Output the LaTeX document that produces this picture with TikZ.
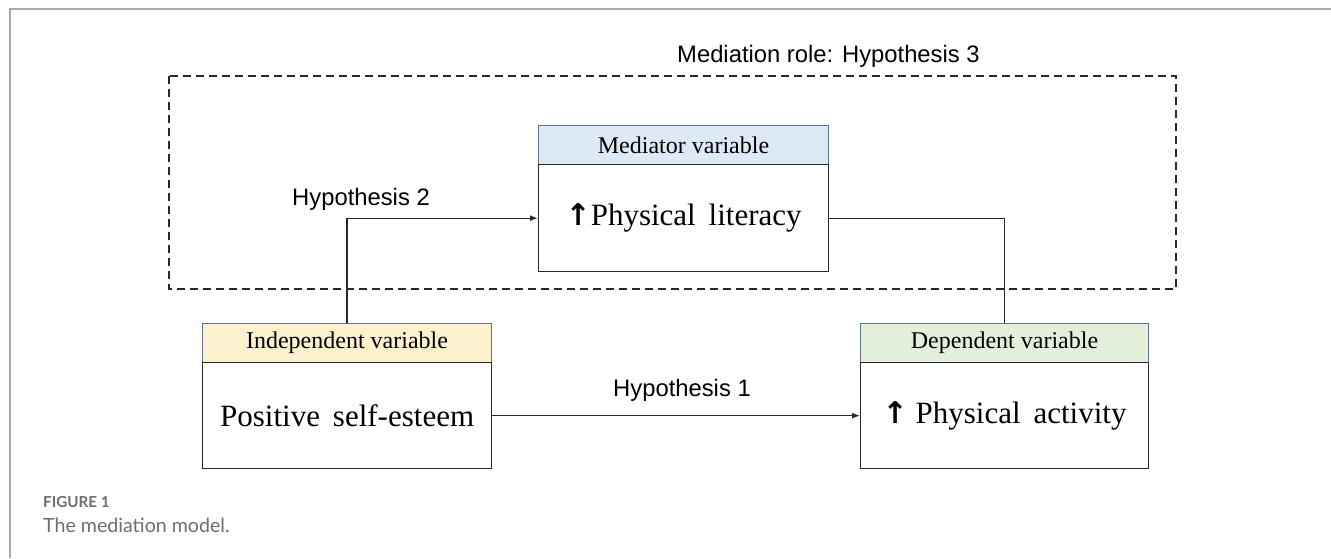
\documentclass[tikz,border=0pt]{standalone}
\usepackage{fontspec}
\setmainfont{Liberation Serif}
\newfontfamily\arialfont{Liberation Sans}
\newfontfamily\capfont{Lato}
\newfontfamily\arrowfont{DejaVu Sans}
\usetikzlibrary{arrows.meta}
\definecolor{medfill}{RGB}{221,234,246}
\definecolor{indfill}{RGB}{252,240,207}
\definecolor{depfill}{RGB}{227,239,218}
\definecolor{hdrline}{RGB}{95,115,145}
\definecolor{bodyline}{RGB}{40,40,40}
\definecolor{framegray}{RGB}{170,170,170}
\definecolor{capgray}{RGB}{110,110,112}
\tikzset{
  hdr/.style={draw=hdrline, line width=1pt, minimum height=39pt, inner sep=0pt,
    font=\fontsize{24}{28}\selectfont},
  bodybox/.style={draw=bodyline, line width=1.3pt, fill=white, inner sep=0pt,
    font=\fontsize{31}{36}\selectfont},
  conn/.style={draw=bodyline, line width=1.3pt},
  arr/.style={conn, -{Latex[length=8pt,width=6pt]}},
  hlabel/.style={font=\arialfont\fontsize{23.8}{28}\selectfont, inner sep=0pt},
  dashbox/.style={draw=bodyline, line width=1.2pt, dash pattern=on 8pt off 5pt},
}
\newcommand{\uparr}{{\arrowfont\bfseries\fontsize{30}{34}\selectfont ↑}}
\begin{document}
\begin{tikzpicture}[x=1pt,y=-1pt]
\useasboundingbox (0,0) rectangle (1331,558);
% frame
\draw[framegray, line width=2pt] (10,558) -- (10,9) -- (1331,9);
% dashed mediation box
\draw[dashbox] (169,76) rectangle (1176,289);
\node[hlabel, anchor=west] (title) at (677,56) {Mediation role: Hypothesis 3};
% mediator
\node[hdr, fill=medfill, minimum width=290pt, anchor=north west] (medh) at (538,125) {Mediator variable};
\node[bodybox, minimum width=290pt, minimum height=107pt, anchor=north west] (medb) at (538,164) {\uparr Physical\, literacy};
% independent
\node[hdr, fill=indfill, minimum width=289pt, anchor=north west] (indh) at (202,323) {Independent variable};
\node[bodybox, minimum width=289pt, minimum height=106pt, anchor=north west] (indb) at (202,362) {Positive\, self-esteem};
% dependent
\node[hdr, fill=depfill, minimum width=288pt, anchor=north west] (deph) at (860,323) {Dependent variable};
\node[bodybox, minimum width=288pt, minimum height=106pt, anchor=north west] (depb) at (860,362) {\uparr\ Physical\, activity};
% connectors
\draw[arr] (indh.north) |- (medb.west);
\draw[conn] (medb.east) -| (deph.north);
\draw[arr] (indb.east) -- (depb.west);
% labels
\node[hlabel] (h2) at (361,199) {Hypothesis 2};
\node[hlabel] (h1) at (682,390) {Hypothesis 1};
% caption
\node[anchor=west, inner sep=0pt, text=capgray, font=\capfont\bfseries\fontsize{15.2}{18}\selectfont] (figno) at (43,502) {FIGURE 1};
\node[anchor=west, inner sep=0pt, text=capgray, font=\capfont\fontsize{19.6}{23}\selectfont] (cap) at (43,525) {The mediation model.};
\end{tikzpicture}
\end{document}
